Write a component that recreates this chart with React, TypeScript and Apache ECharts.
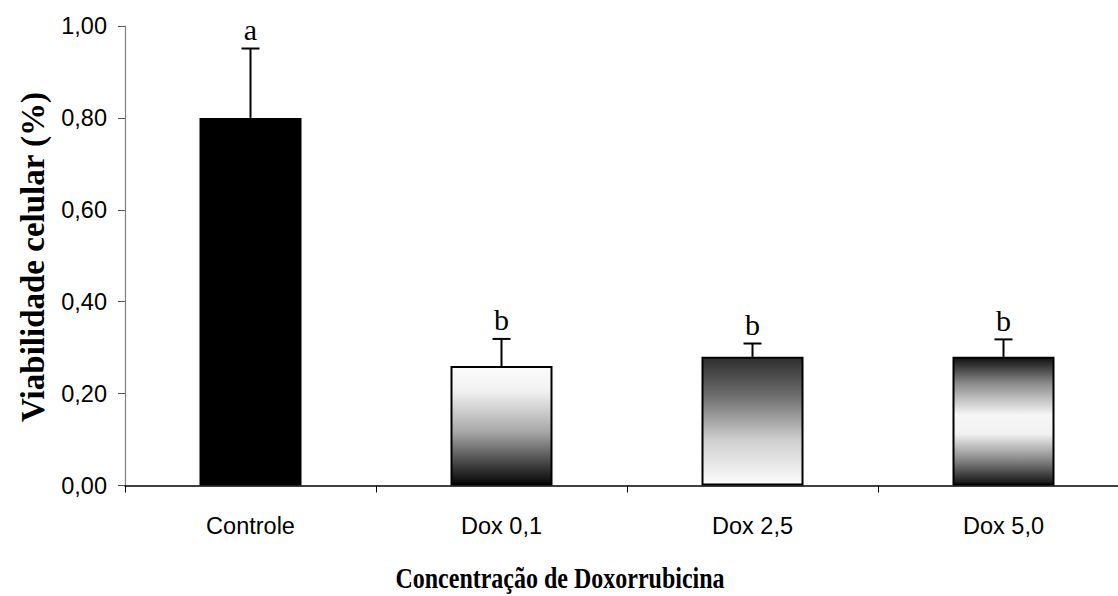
import React, { useEffect, useRef } from "react";
import * as echarts from "echarts";

// Cell viability by doxorubicin concentration
const categories = ["Controle", "Dox 0,1", "Dox 2,5", "Dox 5,0"];
const means = [0.8, 0.26, 0.28, 0.28];
const upperErrors = [0.951, 0.319, 0.309, 0.318];
const groupLetters = ["a", "b", "b", "b"];
const yTicks = [0, 0.2, 0.4, 0.6, 0.8, 1.0];

const serif = "'Liberation Serif', 'Times New Roman', serif";
const sans = "'Liberation Sans', Arial, sans-serif";

const vGrad = (stops: [number, string][]) =>
  new echarts.graphic.LinearGradient(
    0,
    0,
    0,
    1,
    stops.map(([offset, color]) => ({ offset, color }))
  );

const barFills = [
  "#000000",
  vGrad([
    [0, "#fbfbfb"],
    [0.2, "#f2f2f2"],
    [0.55, "#a8a8a8"],
    [0.85, "#3a3a3a"],
    [1, "#050505"],
  ]),
  vGrad([
    [0, "#2e2e2e"],
    [0.3, "#6e6e6e"],
    [0.65, "#cfcfcf"],
    [1, "#fcfcfc"],
  ]),
  vGrad([
    [0, "#111111"],
    [0.2, "#8a8a8a"],
    [0.45, "#f6f6f6"],
    [0.6, "#f2f2f2"],
    [0.8, "#8a8a8a"],
    [1, "#111111"],
  ]),
];

export default function App() {
  const ref = useRef<HTMLDivElement>(null);

  useEffect(() => {
    if (!ref.current) return;
    const chart = echarts.init(ref.current, undefined, { renderer: "svg" });

    const errorData = categories.map((_, i) => [i, means[i], upperErrors[i]]);

    chart.setOption({
      animation: false,
      backgroundColor: "#ffffff",
      // the x axis runs on past the right edge of the visible frame
      grid: { left: 125, top: 26, width: 1004, height: 459.5, containLabel: false },
      xAxis: {
        type: "category",
        data: categories,
        boundaryGap: true,
        axisLine: { lineStyle: { color: "#000", width: 1.5 } },
        axisTick: { show: true, length: 7, lineStyle: { color: "#000", width: 1 } },
        axisLabel: {
          margin: 28,
          color: "#000",
          fontFamily: sans,
          fontSize: 23.5,
        },
        splitLine: { show: false },
      },
      yAxis: {
        type: "value",
        min: yTicks[0],
        max: yTicks[yTicks.length - 1],
        interval: 0.2,
        axisLine: { show: true, lineStyle: { color: "#808080", width: 1.2 } },
        axisTick: { show: true, length: 7, lineStyle: { color: "#555", width: 1 } },
        axisLabel: {
          margin: 18,
          color: "#000",
          fontFamily: sans,
          fontSize: 23.5,
          formatter: (v: number) => v.toFixed(2).replace(".", ","),
        },
        splitLine: { show: false },
      },
      series: [
        {
          type: "bar",
          barWidth: 102,
          data: means.map((v, i) => ({
            value: v,
            itemStyle: {
              color: barFills[i],
              borderColor: "#000",
              borderWidth: 2,
            },
          })),
          z: 2,
        },
        {
          type: "custom",
          data: errorData,
          encode: { x: 0, y: [1, 2] },
          z: 3,
          renderItem: (params: any, api: any) => {
            const idx = api.value(0);
            const base = api.coord([idx, api.value(1)]);
            const top = api.coord([idx, api.value(2)]);
            const cap = 9;
            return {
              type: "group",
              children: [
                {
                  type: "line",
                  shape: { x1: base[0], y1: base[1], x2: top[0], y2: top[1] },
                  style: { stroke: "#000", lineWidth: 2 },
                },
                {
                  type: "line",
                  shape: { x1: top[0] - cap, y1: top[1], x2: top[0] + cap, y2: top[1] },
                  style: { stroke: "#000", lineWidth: 2 },
                },
                {
                  type: "text",
                  x: top[0],
                  y: top[1] - 4,
                  style: {
                    text: groupLetters[params.dataIndex],
                    fill: "#000",
                    font: `30px ${serif}`,
                    align: "center",
                    verticalAlign: "bottom",
                  },
                },
              ],
            };
          },
        },
      ],
      graphic: [
        {
          type: "text",
          x: 33,
          y: 257,
          rotation: Math.PI / 2,
          style: {
            text: "Viabilidade celular (%)",
            fill: "#000",
            font: `bold 33px ${serif}`,
            align: "center",
            verticalAlign: "middle",
          },
        },
        {
          type: "text",
          x: 560,
          y: 578,
          scaleX: 0.8,
          style: {
            text: "Concentração de Doxorrubicina",
            fill: "#000",
            font: `bold 30px ${serif}`,
            align: "center",
            verticalAlign: "middle",
          },
        },
      ],
    });

    return () => chart.dispose();
  }, []);

  return (
    <div style={{ position: "absolute", left: 0, top: 0, width: 1118, height: 596, overflow: "hidden" }}>
      <div ref={ref} style={{ width: 1140, height: 596 }} />
    </div>
  );
}
